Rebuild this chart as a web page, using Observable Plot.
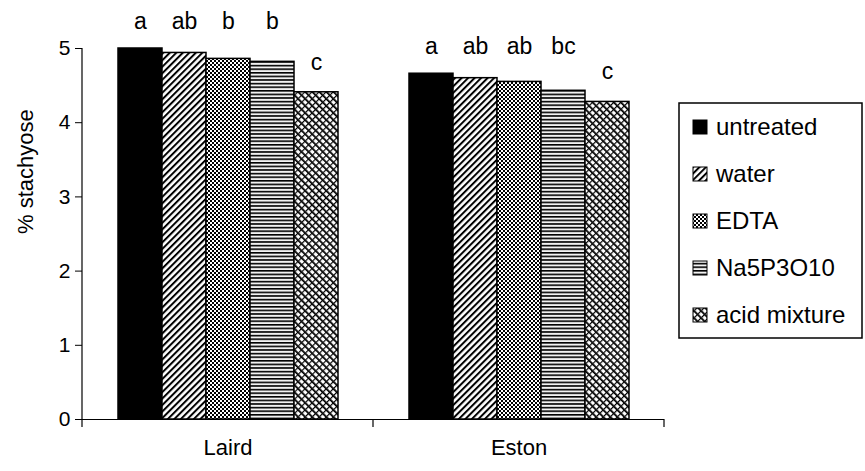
<!DOCTYPE html>
<html><head><meta charset="utf-8">
<script src="https://cdn.jsdelivr.net/npm/d3@7"></script>
<script src="https://cdn.jsdelivr.net/npm/@observablehq/plot@0.6"></script>
<style>
body{margin:0;background:#fff}
svg{font-family:"Liberation Sans",Arial,sans-serif}
</style>
</head><body><div id="chart"></div>
<script>
const varieties = ["Laird", "Eston"];
const treatments = ["untreated", "water", "EDTA", "Na5P3O10", "acid mixture"];
const lairdValues = [5.00, 4.94, 4.86, 4.82, 4.41];
const estonValues = [4.66, 4.60, 4.55, 4.43, 4.28];
const lairdLetters = ["a", "ab", "b", "b", "c"];
const estonLetters = ["a", "ab", "ab", "bc", "c"];
const yTicks = [0, 1, 2, 3, 4, 5];
const yLabel = "% stachyose";

const fills = {
  "untreated": "black",
  "water": "url(#p-water)",
  "EDTA": "url(#p-edta)",
  "Na5P3O10": "url(#p-na)",
  "acid mixture": "url(#p-acid)"
};

const valuesBy = {Laird: lairdValues, Eston: estonValues};
const lettersBy = {Laird: lairdLetters, Eston: estonLetters};
const rows = varieties.flatMap(v => treatments.map((t, i) => ({
  variety: v, treatment: t, value: valuesBy[v][i], letter: lettersBy[v][i],
  groupMax: d3.max(valuesBy[v]), last: i === treatments.length - 1
})));

const font = "Liberation Sans, Arial, sans-serif";
const plot = Plot.plot({
  width: 865, height: 471,
  marginLeft: 82, marginRight: 201, marginTop: 48, marginBottom: 52,
  style: {fontFamily: font, color: "black", background: "white", overflow: "visible"},
  fx: {domain: varieties, padding: 0, label: null},
  x: {domain: treatments, paddingInner: 0, paddingOuter: 0.754, axis: null},
  y: {domain: [0, 5]},
  marks: [
    Plot.barY(rows, {fx: "variety", x: "treatment", y: "value",
      fill: d => fills[d.treatment], stroke: "black", strokeWidth: 1.5}),
    Plot.ruleY([0], {stroke: "black", strokeWidth: 1.2}),
    Plot.text(rows.filter(d => !d.last), {fx: "variety", x: "treatment", y: "groupMax",
      text: "letter", dy: -27, fontSize: 23, fill: "black"}),
    Plot.text(rows.filter(d => d.last), {fx: "variety", x: "treatment", y: "value",
      text: "letter", dy: -30, fontSize: 23, fill: "black"}),
    Plot.axisY({ticks: yTicks, tickFormat: d3.format("d"), tickSize: 7, tickPadding: 5,
      fontSize: 21, label: null}),
    Plot.text([yLabel], {fx: () => varieties[0], frameAnchor: "left", rotate: -90,
      dx: -57, fontSize: 22, fill: "black", text: d => d}),
    Plot.axisFx({anchor: "bottom", tickSize: 0, tickPadding: 20, fontSize: 22, label: null})
  ]
});
document.getElementById("chart").appendChild(plot);

const svg = d3.select(plot);
const defs = svg.insert("defs", ":first-child");
// water: "/" diagonal lines
const pw = defs.append("pattern").attr("id", "p-water").attr("patternUnits", "userSpaceOnUse")
  .attr("width", 4.6).attr("height", 4.6).attr("patternTransform", "rotate(45)");
pw.append("rect").attr("width", 4.6).attr("height", 4.6).attr("fill", "white");
pw.append("rect").attr("width", 2).attr("height", 4.6).attr("fill", "black");
// EDTA: fine checker
const pe = defs.append("pattern").attr("id", "p-edta").attr("patternUnits", "userSpaceOnUse")
  .attr("width", 4).attr("height", 4);
pe.append("rect").attr("width", 4).attr("height", 4).attr("fill", "black");
pe.append("rect").attr("width", 2).attr("height", 2).attr("fill", "white");
pe.append("rect").attr("x", 2).attr("y", 2).attr("width", 2).attr("height", 2).attr("fill", "white");
// Na5P3O10: horizontal lines
const pn = defs.append("pattern").attr("id", "p-na").attr("patternUnits", "userSpaceOnUse")
  .attr("width", 6).attr("height", 3.6);
pn.append("rect").attr("width", 6).attr("height", 3.6).attr("fill", "#f2f2f2");
pn.append("rect").attr("width", 6).attr("height", 1.6).attr("fill", "black");
// acid mixture: "\" weave
const pa = defs.append("pattern").attr("id", "p-acid").attr("patternUnits", "userSpaceOnUse")
  .attr("width", 5).attr("height", 5).attr("patternTransform", "rotate(-45)");
pa.append("rect").attr("width", 5).attr("height", 5).attr("fill", "white");
pa.append("rect").attr("width", 1.8).attr("height", 5).attr("fill", "black");
pa.append("rect").attr("x", 1.8).attr("y", 0).attr("width", 3.2).attr("height", 1.2).attr("fill", "black");

// axis line and category-boundary ticks using the plot's own scales
const fx = plot.scale("fx"), y = plot.scale("y");
const fxStart = fx.range[0], bw = fx.bandwidth;
const y0 = y.apply(0), y5 = y.apply(5);
const axisG = svg.append("g").attr("stroke", "black").attr("stroke-width", 1.2);
axisG.append("line").attr("x1", fxStart).attr("x2", fxStart).attr("y1", y5).attr("y2", y0 + 8);
varieties.forEach((v, i) => {
  const xe = fxStart + (i + 1) * bw;
  axisG.append("line").attr("x1", xe).attr("x2", xe).attr("y1", y0).attr("y2", y0 + 8);
});

// legend
const lg = svg.append("g").attr("font-family", font).attr("font-size", 24)
  .attr("text-anchor", "start");
lg.append("rect").attr("x", 679).attr("y", 103).attr("width", 183).attr("height", 235)
  .attr("fill", "white").attr("stroke", "black").attr("stroke-width", 1.5);
treatments.forEach((t, i) => {
  const cy = 127 + i * 47;
  lg.append("rect").attr("x", 693).attr("y", cy - 7).attr("width", 14).attr("height", 14)
    .attr("fill", fills[t]).attr("stroke", "black").attr("stroke-width", 1);
  lg.append("text").attr("x", 716).attr("y", cy).attr("dy", "0.35em").attr("fill", "black").text(t);
});
</script>
</body></html>
